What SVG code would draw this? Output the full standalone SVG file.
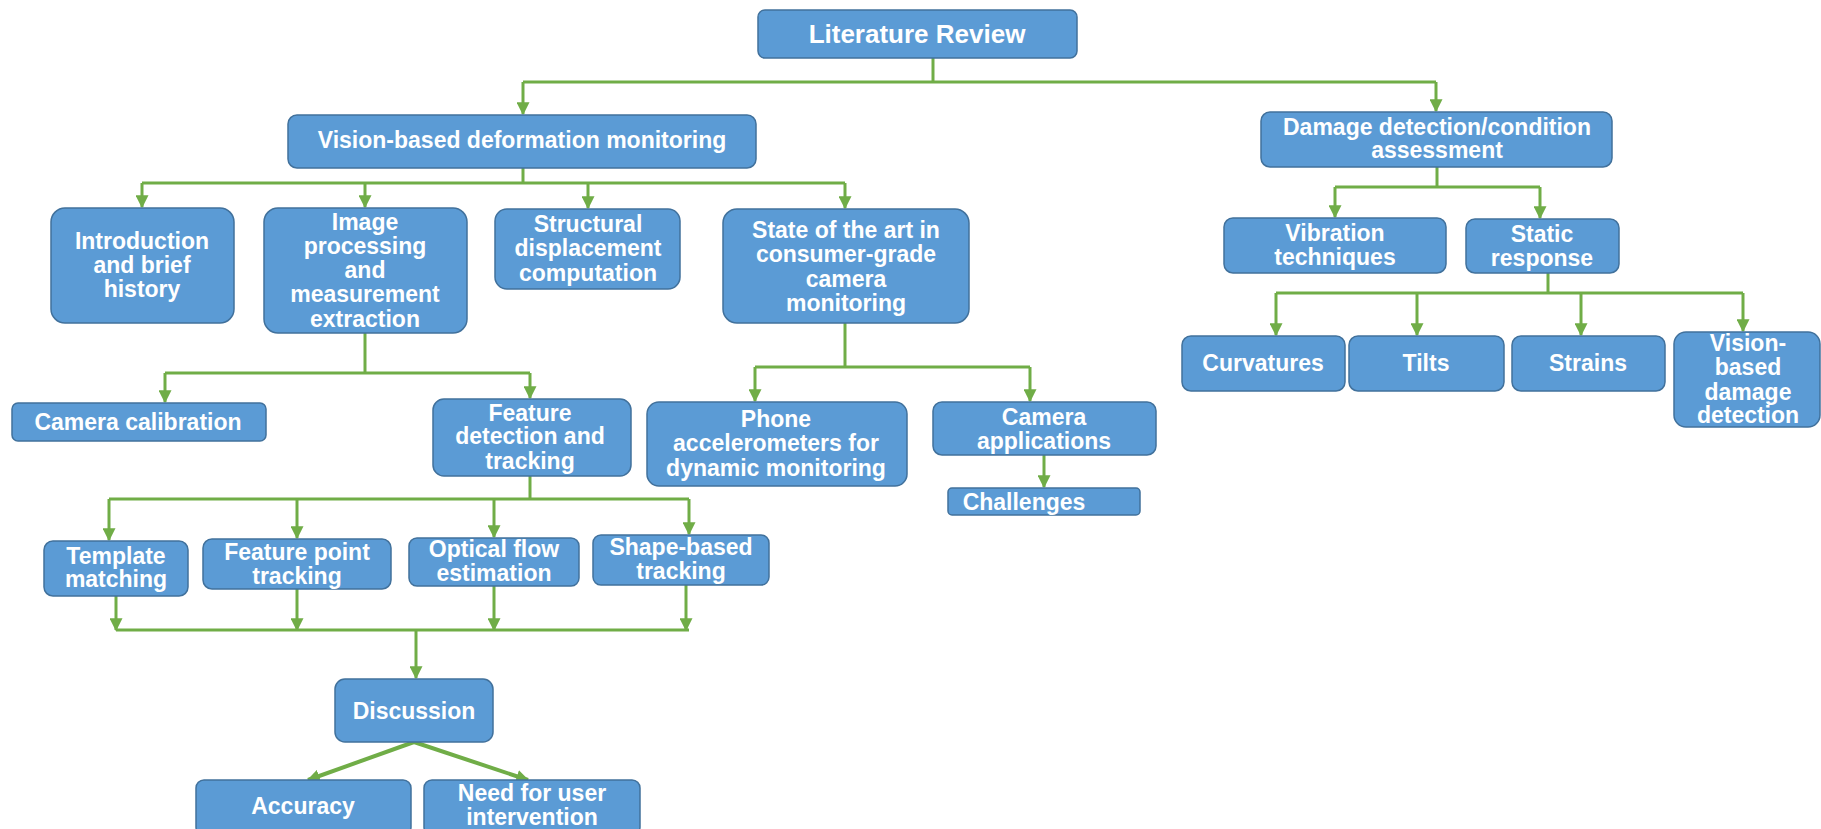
<svg xmlns="http://www.w3.org/2000/svg" width="1821" height="829" viewBox="0 0 1821 829">
  <style>
    .box rect { fill: #5B9BD5; stroke: #41719C; stroke-width: 1.5; }
    .box text { fill: #FFFFFF; font-family: "Liberation Sans", Arial, sans-serif; font-weight: bold; font-size: 23px; text-anchor: middle; }
    .title text { font-size: 26px; }
    #connectors path { fill: none; stroke: #70AD47; stroke-width: 3; }
    #connectors path.arr { marker-end: url(#arrow); }
    #connectors path.thick { stroke-width: 4; }
  </style>
  <defs>
    <marker id="arrow" viewBox="0 0 10 10" refX="9" refY="5" markerWidth="13" markerHeight="13" markerUnits="userSpaceOnUse" orient="auto">
      <path d="M0,0 L10,5 L0,10 z" fill="#70AD47"/>
    </marker>
  </defs>
  <rect width="1821" height="829" fill="#FFFFFF"/>

  <g id="connectors">
    <!-- Literature Review -> two branches -->
    <path d="M933 58 V82"/>
    <path d="M523 82 H1436"/>
    <path class="arr" d="M523 82 V114"/>
    <path class="arr" d="M1436 82 V111"/>
    <!-- Vision-based deformation monitoring -> four topics -->
    <path d="M523 168 V183"/>
    <path d="M142 183 H845"/>
    <path class="arr" d="M142 183 V207"/>
    <path class="arr" d="M365 183 V207"/>
    <path class="arr" d="M588 183 V208"/>
    <path class="arr" d="M845 183 V208"/>
    <!-- Image processing -> calibration / feature detection -->
    <path d="M365 333 V373"/>
    <path d="M165 373 H530"/>
    <path class="arr" d="M165 373 V402"/>
    <path class="arr" d="M530 373 V398"/>
    <!-- State of the art -> phone / camera applications -->
    <path d="M845 323 V367"/>
    <path d="M755 367 H1030"/>
    <path class="arr" d="M755 367 V401"/>
    <path class="arr" d="M1030 367 V401"/>
    <path class="arr" d="M1044 455 V487"/>
    <!-- Feature detection -> tracking methods -->
    <path d="M530 476 V499"/>
    <path d="M109 499 H689"/>
    <path class="arr" d="M109 499 V540"/>
    <path class="arr" d="M297 499 V538"/>
    <path class="arr" d="M494 499 V537"/>
    <path class="arr" d="M689 499 V534"/>
    <!-- Tracking methods -> Discussion -->
    <path class="arr" d="M116 596 V630"/>
    <path class="arr" d="M297 589 V630"/>
    <path class="arr" d="M494 586 V630"/>
    <path class="arr" d="M686 585 V630"/>
    <path d="M116 630 H689"/>
    <path class="arr" d="M416 630 V678"/>
    <!-- Discussion -> Accuracy / user intervention -->
    <path class="arr thick" d="M414 742 L308 780"/>
    <path class="arr thick" d="M414 742 L528 780"/>
    <!-- Damage detection -> vibration / static -->
    <path d="M1437 167 V187"/>
    <path d="M1335 187 H1540"/>
    <path class="arr" d="M1335 187 V217"/>
    <path class="arr" d="M1540 187 V218"/>
    <!-- Static response -> measured quantities -->
    <path d="M1548 273 V293"/>
    <path d="M1276 293 H1743"/>
    <path class="arr" d="M1276 293 V335"/>
    <path class="arr" d="M1417 293 V335"/>
    <path class="arr" d="M1581 293 V335"/>
    <path class="arr" d="M1743 293 V331"/>
  </g>

  <g id="literature-review" class="box title">
    <rect x="758" y="10" width="319" height="48" rx="7"/>
    <text x="917" y="43">Literature Review</text>
  </g>
  <g id="vision-deformation" class="box">
    <rect x="288" y="115" width="468" height="53" rx="9"/>
    <text x="522" y="148">Vision-based deformation monitoring</text>
  </g>
  <g id="introduction" class="box">
    <rect x="51" y="208" width="183" height="115" rx="14"/>
    <text x="142" y="249">Introduction</text>
    <text x="142" y="273">and brief</text>
    <text x="142" y="297">history</text>
  </g>
  <g id="image-processing" class="box">
    <rect x="264" y="208" width="203" height="125" rx="14"/>
    <text x="365" y="230">Image</text>
    <text x="365" y="254">processing</text>
    <text x="365" y="278">and</text>
    <text x="365" y="302">measurement</text>
    <text x="365" y="327">extraction</text>
  </g>
  <g id="structural-displacement" class="box">
    <rect x="495" y="209" width="185" height="80" rx="12"/>
    <text x="588" y="232">Structural</text>
    <text x="588" y="256">displacement</text>
    <text x="588" y="281">computation</text>
  </g>
  <g id="state-of-art" class="box">
    <rect x="723" y="209" width="246" height="114" rx="14"/>
    <text x="846" y="238">State of the art in</text>
    <text x="846" y="262">consumer-grade</text>
    <text x="846" y="287">camera</text>
    <text x="846" y="311">monitoring</text>
  </g>
  <g id="damage-detection" class="box">
    <rect x="1261" y="112" width="351" height="55" rx="9"/>
    <text x="1437" y="135">Damage detection/condition</text>
    <text x="1437" y="158">assessment</text>
  </g>
  <g id="vibration" class="box">
    <rect x="1224" y="218" width="222" height="55" rx="9"/>
    <text x="1335" y="241">Vibration</text>
    <text x="1335" y="265">techniques</text>
  </g>
  <g id="static-response" class="box">
    <rect x="1466" y="219" width="153" height="54" rx="9"/>
    <text x="1542" y="242">Static</text>
    <text x="1542" y="266">response</text>
  </g>
  <g id="curvatures" class="box">
    <rect x="1182" y="336" width="163" height="55" rx="9"/>
    <text x="1263" y="371">Curvatures</text>
  </g>
  <g id="tilts" class="box">
    <rect x="1349" y="336" width="155" height="55" rx="9"/>
    <text x="1426" y="371">Tilts</text>
  </g>
  <g id="strains" class="box">
    <rect x="1512" y="336" width="153" height="55" rx="9"/>
    <text x="1588" y="371">Strains</text>
  </g>
  <g id="vision-damage" class="box">
    <rect x="1674" y="332" width="146" height="95" rx="12"/>
    <text x="1748" y="351">Vision-</text>
    <text x="1748" y="375">based</text>
    <text x="1748" y="400">damage</text>
    <text x="1748" y="423">detection</text>
  </g>
  <g id="camera-calibration" class="box">
    <rect x="12" y="403" width="254" height="38" rx="6"/>
    <text x="138" y="430">Camera calibration</text>
  </g>
  <g id="feature-detection" class="box">
    <rect x="433" y="399" width="198" height="77" rx="11"/>
    <text x="530" y="421">Feature</text>
    <text x="530" y="444">detection and</text>
    <text x="530" y="469">tracking</text>
  </g>
  <g id="phone-accelerometers" class="box">
    <rect x="647" y="402" width="260" height="84" rx="12"/>
    <text x="776" y="427">Phone</text>
    <text x="776" y="451">accelerometers for</text>
    <text x="776" y="476">dynamic monitoring</text>
  </g>
  <g id="camera-applications" class="box">
    <rect x="933" y="402" width="223" height="53" rx="9"/>
    <text x="1044" y="425">Camera</text>
    <text x="1044" y="449">applications</text>
  </g>
  <g id="challenges" class="box">
    <rect x="948" y="488" width="192" height="27" rx="4"/>
    <text x="1024" y="510">Challenges</text>
  </g>
  <g id="template-matching" class="box">
    <rect x="44" y="541" width="144" height="55" rx="9"/>
    <text x="116" y="564">Template</text>
    <text x="116" y="587">matching</text>
  </g>
  <g id="feature-point" class="box">
    <rect x="203" y="539" width="188" height="50" rx="9"/>
    <text x="297" y="560">Feature point</text>
    <text x="297" y="584">tracking</text>
  </g>
  <g id="optical-flow" class="box">
    <rect x="409" y="538" width="170" height="48" rx="8"/>
    <text x="494" y="557">Optical flow</text>
    <text x="494" y="581">estimation</text>
  </g>
  <g id="shape-based" class="box">
    <rect x="593" y="535" width="176" height="50" rx="8"/>
    <text x="681" y="555">Shape-based</text>
    <text x="681" y="579">tracking</text>
  </g>
  <g id="discussion" class="box">
    <rect x="335" y="679" width="158" height="63" rx="10"/>
    <text x="414" y="719">Discussion</text>
  </g>
  <g id="accuracy" class="box">
    <rect x="196" y="780" width="215" height="55" rx="8"/>
    <text x="303" y="814">Accuracy</text>
  </g>
  <g id="user-intervention" class="box">
    <rect x="424" y="780" width="216" height="55" rx="8"/>
    <text x="532" y="801">Need for user</text>
    <text x="532" y="825">intervention</text>
  </g>
</svg>
